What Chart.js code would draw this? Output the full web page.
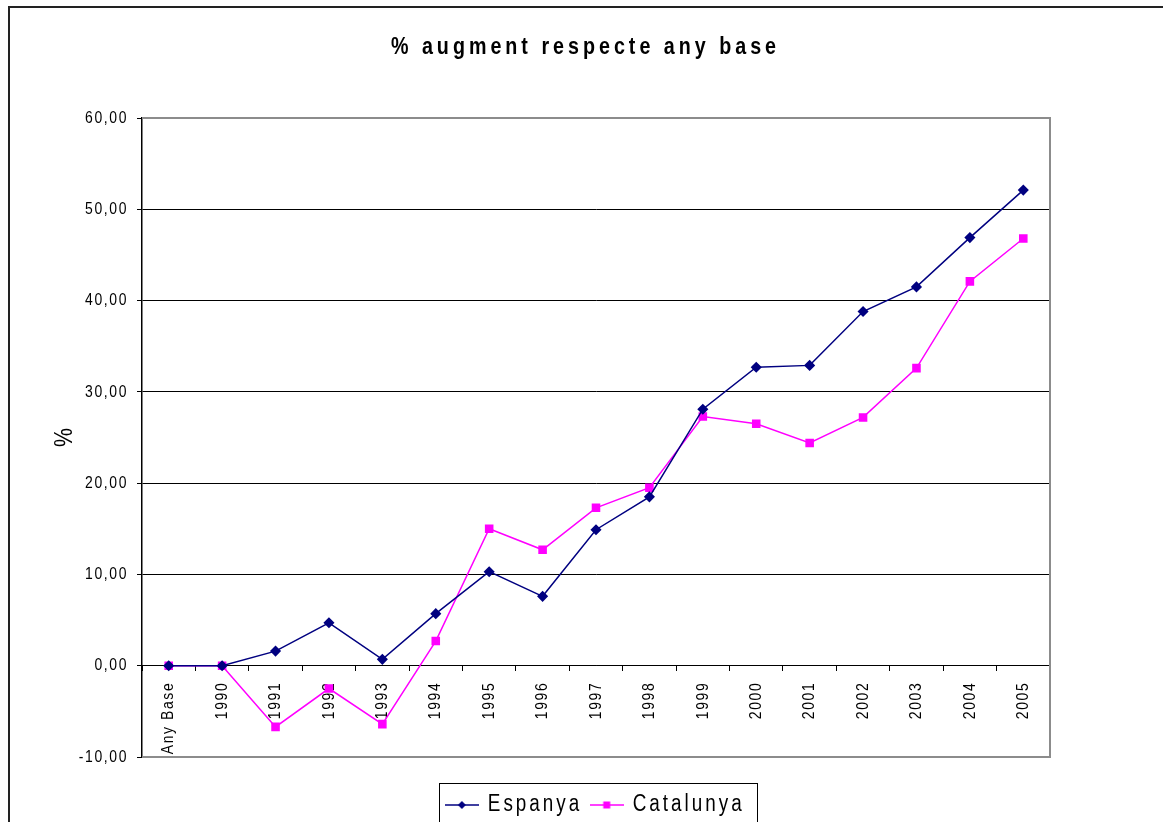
<!DOCTYPE html>
<html>
<head>
<meta charset="utf-8">
<script src="https://cdn.jsdelivr.net/npm/chart.js@4.4.1/dist/chart.umd.min.js"></script>
<style>
  html, body { margin: 0; padding: 0; background: #fff; overflow: hidden; }
  #wrap { position: relative; width: 1163px; height: 830px; }
</style>
</head>
<body>
<div id="wrap"><canvas id="c"></canvas></div>
<script>
// ---- data ----
const categories = ['Any Base', '1990', '1991', '1992', '1993', '1994', '1995', '1996', '1997',
                    '1998', '1999', '2000', '2001', '2002', '2003', '2004', '2005'];
const espanya   = [0, 0, 1.6, 4.7, 0.7, 5.7, 10.3, 7.6, 14.9, 18.5, 28.1, 32.7, 32.9, 38.8, 41.5, 46.9, 52.1];
const catalunya = [0, 0, -6.7, -2.5, -6.4, 2.7, 15.0, 12.7, 17.3, 19.5, 27.3, 26.5, 24.4, 27.2, 32.6, 42.1, 46.8];
const seriesNames = ['Espanya', 'Catalunya'];
const titleText = '% augment respecte any base';
const yAxisTitle = '%';
const yMin = -10, yMax = 60, yStep = 10;

const FAMILY = "'Liberation Sans', Arial, sans-serif";
const NAVY = '#000080', MAGENTA = '#FF00FF';

// The reference uses a condensed, widely tracked face: compress glyphs horizontally
// and add letter spacing (values below are in final pixels).
const SX = 0.82;
function spacingFor(font) {
  let s = 1.6;
  if (/bold/.test(font)) s = 4;
  else if (/23px/.test(font)) s = 3;
  else if (/26px/.test(font)) s = 0;
  return (s / SX) + 'px';
}
const proto = CanvasRenderingContext2D.prototype;
const origFill = proto.fillText, origMeasure = proto.measureText;
const hasLS = 'letterSpacing' in proto;
proto.fillText = function (t, x, y, mw) {
  if (hasLS) this.letterSpacing = spacingFor(this.font);
  this.save();
  this.translate(x, y);
  this.scale(SX, 1);
  if (mw === undefined || mw === null) origFill.call(this, t, 0, 0);
  else origFill.call(this, t, 0, 0, mw / SX);
  this.restore();
};
proto.measureText = function (t) {
  if (hasLS) this.letterSpacing = spacingFor(this.font);
  const m = origMeasure.call(this, t);
  return {
    width: m.width * SX,
    actualBoundingBoxLeft: m.actualBoundingBoxLeft * SX,
    actualBoundingBoxRight: m.actualBoundingBoxRight * SX,
    actualBoundingBoxAscent: m.actualBoundingBoxAscent,
    actualBoundingBoxDescent: m.actualBoundingBoxDescent,
    fontBoundingBoxAscent: m.fontBoundingBoxAscent,
    fontBoundingBoxDescent: m.fontBoundingBoxDescent
  };
};

function legendSymbol(color, style) {
  const cv = document.createElement('canvas');
  cv.width = 34; cv.height = 12;
  const g = cv.getContext('2d');
  g.strokeStyle = color; g.lineWidth = 2;
  g.globalAlpha = 0.75;
  g.beginPath(); g.moveTo(0, 6); g.lineTo(34, 6); g.stroke();
  g.globalAlpha = 1;
  g.fillStyle = color;
  g.beginPath();
  if (style === 'diamond') { g.moveTo(17, 2); g.lineTo(21, 6); g.lineTo(17, 10); g.lineTo(13, 6); }
  else { g.rect(13.5, 2.5, 7, 7); }
  g.closePath(); g.fill();
  return cv;
}
const symbols = [legendSymbol(NAVY, 'diamond'), legendSymbol(MAGENTA, 'square')];

const framePlugin = {
  id: 'frame',
  beforeDatasetsDraw(chart) {
    const { ctx, chartArea: a } = chart;
    ctx.save();
    ctx.strokeStyle = '#8c8c8c';
    ctx.lineWidth = 2;
    ctx.beginPath();
    ctx.moveTo(a.left, a.top); ctx.lineTo(a.right, a.top);
    ctx.lineTo(a.right, a.bottom); ctx.lineTo(a.left, a.bottom);
    ctx.stroke();
    ctx.restore();
  },
  afterDraw(chart) {
    const { ctx } = chart;
    ctx.save();
    ctx.strokeStyle = '#222';
    ctx.lineWidth = 2;
    ctx.beginPath();
    ctx.moveTo(9, chart.height); ctx.lineTo(9, 7); ctx.lineTo(chart.width, 7);
    ctx.stroke();
    const hb = chart.legend.legendHitBoxes;
    if (hb && hb.length) {
      const l = Math.min(...hb.map(h => h.left)) - 8;
      const r = Math.max(...hb.map(h => h.left + h.width)) + 13;
      const cy = hb[0].top + hb[0].height / 2;
      ctx.strokeStyle = '#000';
      ctx.lineWidth = 1;
      ctx.strokeRect(Math.round(l) + 0.5, Math.round(cy - 22) + 0.5, Math.round(r - l), 44);
    }
    ctx.restore();
  }
};

const tickFont = { family: FAMILY, size: 17 };

new Chart(document.getElementById('c'), {
  type: 'line',
  data: {
    labels: categories,
    datasets: [
      { label: seriesNames[0], data: espanya, borderColor: NAVY, backgroundColor: NAVY,
        borderWidth: 1.5, pointStyle: 'rectRot', pointRadius: 4.5, pointHoverRadius: 4.5,
        tension: 0, xAxisID: 'x', yAxisID: 'y' },
      { label: seriesNames[1], data: catalunya, borderColor: MAGENTA, backgroundColor: MAGENTA,
        borderWidth: 1.5, pointStyle: 'rect', pointRadius: 5, pointHoverRadius: 5,
        tension: 0, xAxisID: 'x', yAxisID: 'y' }
    ]
  },
  options: {
    responsive: true,
    maintainAspectRatio: false,
    animation: false,
    events: [],
    layout: { padding: { left: 8, top: 0, right: 0, bottom: 3.5 } },
    plugins: {
      title: {
        display: true, text: titleText, color: '#000',
        font: { family: FAMILY, size: 24, weight: 'bold', lineHeight: 1.2 },
        padding: { top: 32.6, bottom: 56.6 }
      },
      legend: {
        display: true, position: 'bottom', fullSize: false,
        title: { display: true, text: '', font: { size: 10, lineHeight: 1.2 }, padding: { top: 14.5, bottom: 0 } },
        labels: {
          color: '#000', font: { family: FAMILY, size: 23 }, padding: 10,
          usePointStyle: true, pointStyleWidth: 29,
          generateLabels: (chart) => chart.data.datasets.map((ds, i) => ({
            text: ds.label, pointStyle: symbols[i], fillStyle: ds.borderColor,
            strokeStyle: ds.borderColor, lineWidth: 0, hidden: false, datasetIndex: i, fontColor: '#000'
          }))
        }
      },
      tooltip: { enabled: false }
    },
    scales: {
      x: {
        type: 'category',
        position: { y: 0 },
        offset: true,
        grid: { display: true, drawOnChartArea: false, drawTicks: true, tickLength: 5, tickColor: '#000', tickWidth: 1, offset: true },
        border: { display: true, color: '#000', width: 1 },
        ticks: { color: '#000', font: tickFont, minRotation: 90, maxRotation: 90, autoSkip: false, padding: 11 },
        afterFit: (s) => { s.height = 0; }
      },
      y: {
        type: 'linear', position: 'left',
        min: yMin, max: yMax,
        grid: {
          color: (c) => (c.tick && (c.tick.value === yMax || c.tick.value === yMin)) ? '#8c8c8c' : '#000',
          lineWidth: 1, drawTicks: true, tickLength: 5, tickColor: '#000', tickWidth: 1
        },
        border: { display: true, color: '#000', width: 1.5 },
        ticks: {
          stepSize: yStep, color: '#000', font: tickFont, padding: 9,
          callback: (v) => Number(v).toFixed(2).replace('.', ',')
        },
        title: { display: true, text: yAxisTitle, color: '#000', font: { family: FAMILY, size: 26 }, padding: { top: 41, bottom: 0 } },
        afterFit: (s) => { s.width = 134; }
      },
      y2: {
        type: 'linear', position: 'right', display: true,
        grid: { display: false, drawTicks: false }, border: { display: false },
        ticks: { display: false },
        afterFit: (s) => { s.width = 113; }
      }
    }
  },
  plugins: [framePlugin]
});
</script>
</body>
</html>
